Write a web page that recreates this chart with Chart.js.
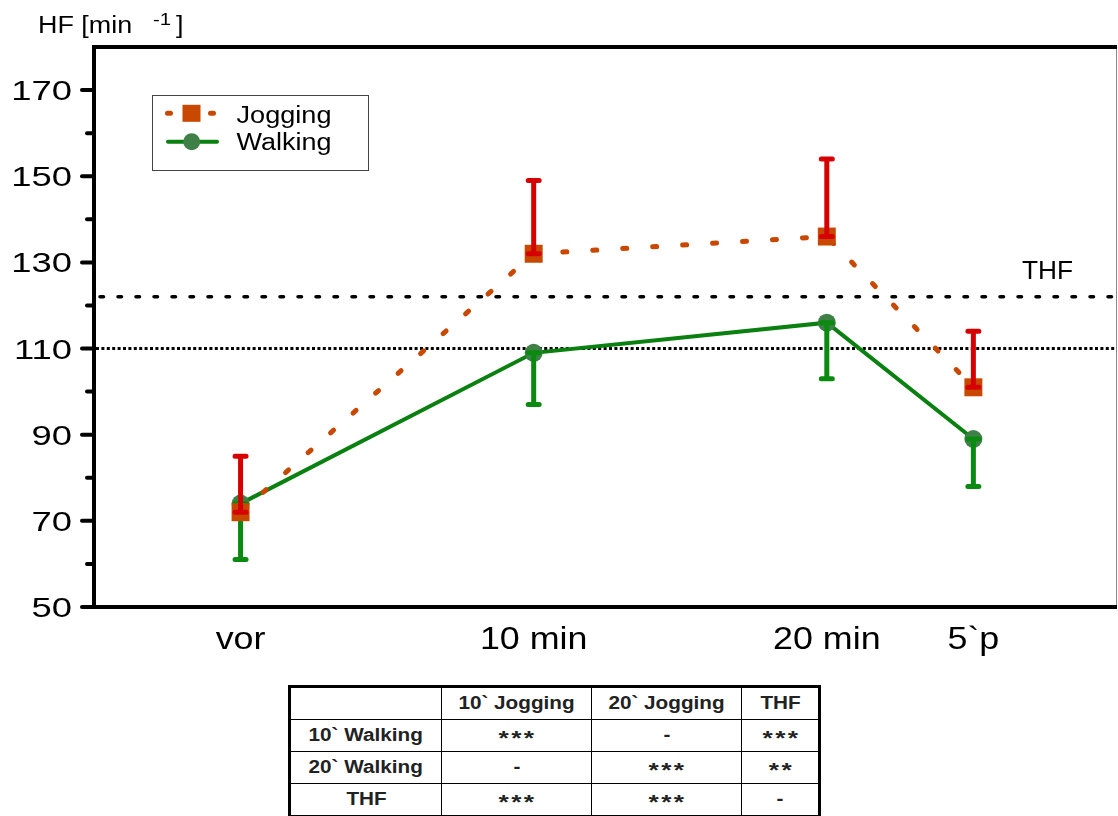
<!DOCTYPE html>
<html>
<head>
<meta charset="utf-8">
<script src="https://cdn.jsdelivr.net/npm/chart.js@4/dist/chart.umd.min.js"></script>
<style>
  html, body { margin: 0; padding: 0; background: #fff; overflow: hidden; }
  #wrap { position: relative; width: 1118px; height: 816px; }
  #hf { position: absolute; left: 0; top: 0; }
  #sig {
    position: absolute; left: 288px; top: 685px; width: 530px; height: 131px;
    border-collapse: collapse; table-layout: fixed; border: 3px solid #000;
    font-family: "Liberation Sans", Arial, sans-serif; font-weight: bold;
    font-size: 18px; color: #222;
  }
  #sig td { border: 1.5px solid #000; text-align: center; padding: 0; height: 31px; white-space: nowrap; }
  #sig td span { display: inline-block; transform: scaleX(1.15); }
  #sig td span.stars { font-size: 21px; letter-spacing: 2px; text-indent: 2px; position: relative; top: 2px; transform: scaleX(1.25); }
</style>
</head>
<body>
<div id="wrap">
  <canvas id="hf" width="1118" height="670"></canvas>
  <table id="sig"><colgroup><col style="width:152px"><col style="width:150px"><col style="width:150px"><col style="width:78px"></colgroup><tbody id="sigBody"></tbody></table>
</div>
<script>
// Measurement points (minutes relative to start) and their axis labels
const xPositions = [0, 10, 20, 25];
const xLabels = ['vor', '10 min', '20 min', '5`p'];

// Heart rate, mean and standard deviation [min^-1]
const joggingMean = [72, 132, 136, 101];
const joggingSD   = [13, 17, 18, 13];
const walkingMean = [74, 109, 116, 89];
const walkingSD   = [13, 12, 13, 11];

// Reference levels
const thfLevel = 122;   // training heart rate (dashed)
const baseLevel = 110;  // dotted line

// Y axis ticks
const yTickValues = [50, 60, 70, 80, 90, 100, 110, 120, 130, 140, 150, 160, 170];
const yLabelValues = [50, 70, 90, 110, 130, 150, 170];

// Significance table
const tableHead = ['', '10` Jogging', '20` Jogging', 'THF'];
const tableRows = [
  ['10` Walking', '***', '-', '***'],
  ['20` Walking', '-', '***', '**'],
  ['THF', '***', '***', '-']
];

const FONT = '"Liberation Sans", Arial, sans-serif';
const JOG = '#c84800', JOG_ERR = '#d70000';
const WALK = '#0a8010', WALK_PT = '#3f8048', WALK_ERR = '#0a8a10';

function toPoints(vals) { return vals.map((v, i) => ({ x: xPositions[i], y: v })); }

function drawText(ctx, text, x, y, size, sx, align, weight) {
  ctx.save();
  ctx.font = (weight || 'normal') + ' ' + size + 'px ' + FONT;
  const w = ctx.measureText(text).width * sx;
  const left = align === 'center' ? x - w / 2 : align === 'right' ? x - w : x;
  ctx.translate(left, y);
  ctx.scale(sx, 1);
  ctx.textAlign = 'left';
  ctx.textBaseline = 'alphabetic';
  ctx.fillStyle = '#000';
  ctx.fillText(text, 0, 0);
  ctx.restore();
}
function drawTextW(ctx, text, x, y, size, width) {
  ctx.save();
  ctx.font = size + 'px ' + FONT;
  const sx = width / ctx.measureText(text).width;
  ctx.restore();
  drawText(ctx, text, x, y, size, sx, 'left');
}

// Error bars: one-sided, with caps at the mean and at the end
const errorBars = {
  id: 'errorBars',
  afterDatasetDraw(chart, args) {
    const ds = chart.data.datasets[args.index];
    if (!ds.sd) return;
    const ctx = chart.ctx, xs = chart.scales.x, ys = chart.scales.y;
    ctx.save();
    ctx.strokeStyle = ds.errColor;
    ctx.lineWidth = 5;
    ctx.lineCap = 'round';
    ds.data.forEach((p, i) => {
      const px = xs.getPixelForValue(p.x);
      const y0 = ys.getPixelForValue(p.y);
      const y1 = ys.getPixelForValue(p.y + ds.errDir * ds.sd[i]);
      ctx.beginPath();
      ctx.moveTo(px, y0); ctx.lineTo(px, y1);
      ctx.moveTo(px - 5.5, y0); ctx.lineTo(px + 5.5, y0);
      ctx.moveTo(px - 5.5, y1); ctx.lineTo(px + 5.5, y1);
      ctx.stroke();
    });
    ctx.restore();
  }
};

// Frame, reference lines, axis labels, legend and titles
const decor = {
  id: 'decor',
  beforeDatasetsDraw(chart) {
    const ctx = chart.ctx, a = chart.chartArea, ys = chart.scales.y;
    ctx.save();
    let y = ys.getPixelForValue(thfLevel);
    ctx.strokeStyle = '#000';
    ctx.lineWidth = 3.5; ctx.lineCap = 'round'; ctx.setLineDash([3.5, 14.5]);
    ctx.beginPath(); ctx.moveTo(a.left + 6, y); ctx.lineTo(a.right, y); ctx.stroke();
    y = ys.getPixelForValue(baseLevel);
    ctx.lineWidth = 3; ctx.lineCap = 'butt'; ctx.setLineDash([3, 2.4]);
    ctx.beginPath(); ctx.moveTo(a.left + 2, y); ctx.lineTo(a.right, y); ctx.stroke();
    ctx.restore();
  },
  afterDraw(chart) {
    const ctx = chart.ctx, a = chart.chartArea, xs = chart.scales.x, ys = chart.scales.y;
    ctx.save();
    // plot frame
    ctx.strokeStyle = '#888'; ctx.lineWidth = 1;
    ctx.beginPath(); ctx.moveTo(a.right - 0.5, a.top); ctx.lineTo(a.right - 0.5, a.bottom); ctx.stroke();
    ctx.strokeStyle = '#000'; ctx.lineWidth = 4; ctx.lineCap = 'butt';
    ctx.beginPath();
    ctx.moveTo(a.left, a.top); ctx.lineTo(a.right, a.top);
    ctx.moveTo(a.left, a.top - 2); ctx.lineTo(a.left, a.bottom + 2);
    ctx.moveTo(a.left - 2, a.bottom); ctx.lineTo(a.right, a.bottom);
    ctx.stroke();
    // y ticks and labels
    ctx.lineCap = 'round';
    ys.ticks.forEach(t => {
      const y = ys.getPixelForValue(t.value);
      const major = yLabelValues.includes(t.value);
      ctx.beginPath();
      ctx.moveTo(a.left - (major ? 12 : 7), y); ctx.lineTo(a.left, y);
      ctx.stroke();
      if (major) drawText(ctx, String(t.value), 72, y + 10, 28, 1.3, 'right');
    });
    // x labels
    xs.ticks.forEach((t, i) => {
      drawText(ctx, xLabels[i], xs.getPixelForValue(t.value), 649, 32, 1.12, 'center');
    });
    // axis title
    drawText(ctx, 'HF [min', 38, 33, 23, 1.17, 'left');
    drawText(ctx, '-1', 153, 25, 17, 1.2, 'left');
    drawText(ctx, ']', 176, 33, 23, 1.17, 'left');
    // THF label
    drawText(ctx, 'THF', 1022, 279, 25, 1.05, 'left');
    // legend
    ctx.lineWidth = 1; ctx.strokeStyle = '#444';
    ctx.fillStyle = '#fff';
    ctx.fillRect(153, 96, 215, 74);
    ctx.strokeRect(152.5, 95.5, 216, 75);
    const jog = chart.data.datasets[0], walk = chart.data.datasets[1];
    let ly = 113.3;
    ctx.strokeStyle = jog.borderColor; ctx.lineWidth = 5; ctx.lineCap = 'round';
    ctx.beginPath(); ctx.moveTo(167.5, ly); ctx.lineTo(170.5, ly); ctx.moveTo(210.5, ly); ctx.lineTo(213.5, ly); ctx.stroke();
    ctx.fillStyle = jog.pointBackgroundColor;
    ctx.fillRect(182.5, ly - 8.5, 18, 17);
    drawTextW(ctx, jog.label, 236.5, 123, 23, 95);
    ly = 141.7;
    ctx.strokeStyle = walk.borderColor; ctx.lineWidth = 4; ctx.lineCap = 'round';
    ctx.beginPath(); ctx.moveTo(168, ly); ctx.lineTo(217, ly); ctx.stroke();
    ctx.fillStyle = walk.pointBackgroundColor;
    ctx.beginPath(); ctx.arc(191.7, ly, 8.5, 0, Math.PI * 2); ctx.fill();
    drawTextW(ctx, walk.label, 236.5, 150, 23, 95);
    ctx.restore();
  }
};

new Chart(document.getElementById('hf'), {
  type: 'line',
  data: {
    datasets: [
      {
        label: 'Jogging',
        data: toPoints(joggingMean),
        sd: joggingSD, errDir: 1, errColor: JOG_ERR,
        borderColor: JOG, borderWidth: 5, borderDash: [4, 26], borderCapStyle: 'round',
        pointStyle: 'rect', pointRadius: 12.7, pointHoverRadius: 12.7,
        pointBackgroundColor: JOG, pointBorderWidth: 0, tension: 0, fill: false
      },
      {
        label: 'Walking',
        data: toPoints(walkingMean),
        sd: walkingSD, errDir: -1, errColor: WALK_ERR,
        borderColor: WALK, borderWidth: 4,
        pointStyle: 'circle', pointRadius: 9, pointHoverRadius: 9,
        pointBackgroundColor: WALK_PT, pointBorderWidth: 0, tension: 0, fill: false
      }
    ]
  },
  options: {
    responsive: false,
    animation: false,
    events: [],
    layout: { autoPadding: false, padding: { top: 47, right: 1, left: 0, bottom: 0 } },
    plugins: { legend: { display: false }, tooltip: { enabled: false } },
    scales: {
      x: {
        type: 'linear', min: -5, max: 29.9,
        afterBuildTicks: s => { s.ticks = xPositions.map(v => ({ value: v })); },
        afterFit: s => { s.height = 63; },
        ticks: { display: false }, grid: { display: false }, border: { display: false }
      },
      y: {
        min: 50, max: 180,
        afterBuildTicks: s => { s.ticks = yTickValues.map(v => ({ value: v })); },
        afterFit: s => { s.width = 94; },
        ticks: { display: false }, grid: { display: false }, border: { display: false }
      }
    }
  },
  plugins: [decor, errorBars]
});

// significance table
const body = document.getElementById('sigBody');
[tableHead].concat(tableRows).forEach(row => {
  const tr = document.createElement('tr');
  row.forEach(cell => {
    const td = document.createElement('td');
    const sp = document.createElement('span');
    sp.textContent = cell;
    if (/^\*+$/.test(cell)) sp.className = 'stars';
    td.appendChild(sp);
    tr.appendChild(td);
  });
  body.appendChild(tr);
});
</script>
</body>
</html>
